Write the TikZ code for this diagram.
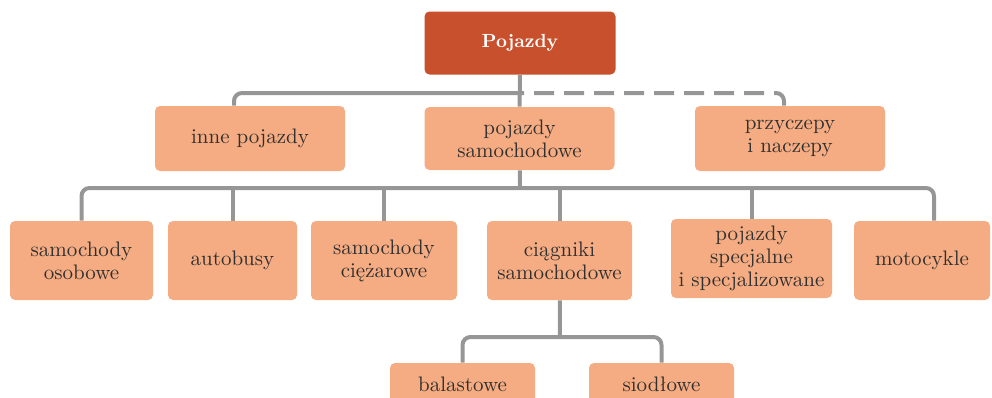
\documentclass[tikz,border=0pt]{standalone}
\usepackage{tikz}
\usetikzlibrary{positioning}
\definecolor{topcol}{RGB}{200, 80, 44}
\definecolor{boxcol}{RGB}{245, 172, 130}
\definecolor{linkcol}{RGB}{150, 150, 150}
\definecolor{txtcol}{RGB}{48, 48, 48}
\tikzset{
  box/.style={fill=boxcol, rounded corners=2.5pt, align=center, inner sep=1pt,
              text=txtcol, font=\fontsize{10.5}{11.5}\selectfont},
  lvlone/.style={box, minimum width=95pt, minimum height=32.5pt},
  lvltwo/.style={box, minimum height=39.5pt},
  link/.style={draw=linkcol, line width=2pt, rounded corners=4pt},
}

\begin{document}
\begin{tikzpicture}[x=0.5pt, y=-0.5pt]
  \useasboundingbox (0,0) rectangle (992,397);
  \clip (0,0) rectangle (992,397);

  % root
  \node[box, fill=topcol, text=white, font=\fontsize{9.5}{11}\selectfont\bfseries,
        minimum width=95.5pt, minimum height=31.5pt] (top) at (520,43) {Pojazdy};

  % level 1
  \node[lvlone] (inne) at (250,138.5) {inne pojazdy};
  \node[lvlone, minimum height=31.5pt] (samoch) at (519.5,138.5) {pojazdy\\samochodowe};
  \node[lvlone] (przy) at (790,138.5) {przyczepy\\i naczepy};

  % level 2
  \node[lvltwo, minimum width=71.5pt] (osob) at (81.5,260.5) {samochody\\osobowe};
  \node[lvltwo, minimum width=64.5pt] (autob) at (232.5,260.5) {autobusy};
  \node[lvltwo, minimum width=73pt] (ciez) at (384,260.5) {samochody\\ciężarowe};
  \node[lvltwo, minimum width=72.5pt] (ciag) at (559.5,260.5) {ciągniki\\samochodowe};
  \node[lvltwo, minimum width=80.5pt] (spec) at (751.5,258.5) {pojazdy\\specjalne\\i specjalizowane};
  \node[lvltwo, minimum width=68pt] (moto) at (922,260.5) {motocykle};

  % level 3
  \node[box, minimum width=72.5pt, minimum height=21pt] (bal) at (462.5,384) {balastowe};
  \node[box, minimum width=72.5pt, minimum height=21pt] (sio) at (661.5,384) {siodłowe};

  % connectors
  \coordinate (busone) at (520,93);
  \coordinate (bustwo) at (520,188);
  \coordinate (busthree) at (560,337);

  \draw[link] (top) -- (samoch);
  \draw[link] ([xshift=-8pt]inne.north) |- (busone);
  \draw[link, dash pattern=on 10pt off 5pt, dash phase=-7pt] (busone) -| ([xshift=-3pt]przy.north);

  \draw[link] (samoch) -- (bustwo);
  \draw[link] (osob.north) |- (bustwo) -| ([xshift=6pt]moto.north);
  \foreach \n in {autob, ciez, ciag, spec}
    \draw[link] (\n.north) -- (\n.north |- bustwo);

  \draw[link] (ciag) -- (busthree);
  \draw[link] (bal.north) |- (busthree) -| (sio.north);
\end{tikzpicture}
\end{document}
